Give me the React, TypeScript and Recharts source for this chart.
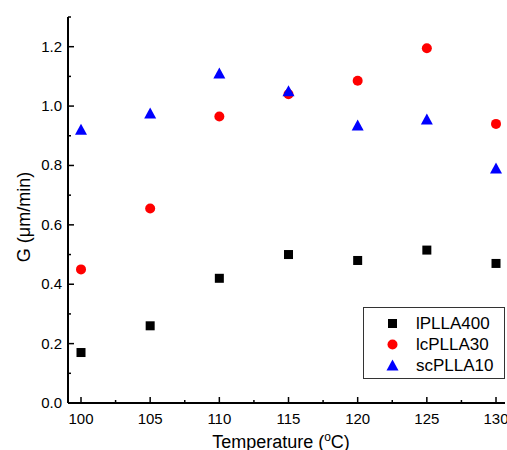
import { Label, Scatter, ScatterChart, XAxis, YAxis } from "recharts";

const temperatures = [100, 105, 110, 115, 120, 125, 130];
const lPLLA400 = [0.17, 0.26, 0.42, 0.5, 0.48, 0.515, 0.47];
const lcPLLA30 = [0.45, 0.655, 0.965, 1.04, 1.085, 1.195, 0.94];
const scPLLA10 = [0.92, 0.975, 1.11, 1.05, 0.935, 0.955, 0.79];

const xTicks = [100, 102.5, 105, 107.5, 110, 112.5, 115, 117.5, 120, 122.5, 125, 127.5, 130];
const yTicks = [0, 0.1, 0.2, 0.3, 0.4, 0.5, 0.6, 0.7, 0.8, 0.9, 1.0, 1.1, 1.2, 1.3];

const FONT = "'Liberation Sans', Arial, sans-serif";

const toPoints = (vals: number[]) => temperatures.map((t, i) => ({ x: t, y: vals[i] }));

const Square = ({ cx, cy }: any) => <rect x={cx - 4.5} y={cy - 4.5} width={9} height={9} fill="#000" />;
const Dot = ({ cx, cy }: any) => <circle cx={cx} cy={cy} r={5} fill="#ff0000" />;
const Tri = ({ cx, cy }: any) => (
  <polygon points={`${cx},${cy - 6} ${cx + 6},${cy + 5} ${cx - 6},${cy + 5}`} fill="#0000ff" />
);

function XTick({ x, y, payload }: any) {
  const major = payload.value % 5 === 0;
  return (
    <g>
      <line x1={x} x2={x} y1={y} y2={y - (major ? 6 : 3)} stroke="#000" strokeWidth={1.5} />
      {major && (
        <text x={x} y={y + 21} textAnchor="middle" fontSize={15} fontFamily={FONT} fill="#000">
          {payload.value}
        </text>
      )}
    </g>
  );
}

function YTick({ x, y, payload }: any) {
  const major = Math.round(payload.value * 10) % 2 === 0;
  return (
    <g>
      <line x1={x} x2={x + (major ? 6 : 3)} y1={y} y2={y} stroke="#000" strokeWidth={1.5} />
      {major && (
        <text x={x - 6} y={y + 5} textAnchor="end" fontSize={15} fontFamily={FONT} fill="#000">
          {payload.value.toFixed(1)}
        </text>
      )}
    </g>
  );
}

const legendItems = [
  { name: "lPLLA400", icon: <rect x={6} y={4} width={9} height={9} fill="#000" /> },
  { name: "lcPLLA30", icon: <circle cx={10.5} cy={8.5} r={5} fill="#ff0000" /> },
  { name: "scPLLA10", icon: <polygon points="10.5,2.5 16.5,13.5 4.5,13.5" fill="#0000ff" /> },
];

function LegendBox() {
  return (
    <div
      style={{
        position: "absolute",
        left: 363,
        top: 307,
        border: "1px solid #333",
        width: 142,
        height: 72,
        boxSizing: "border-box",
        paddingTop: 5,
        fontFamily: FONT,
        fontSize: 17,
        background: "#fff",
      }}
    >
      {legendItems.map((it) => (
        <div key={it.name} style={{ display: "flex", alignItems: "center", height: 21 }}>
          <svg width={21} height={17} style={{ marginLeft: 18 }}>
            {it.icon}
          </svg>
          <span style={{ marginLeft: 13, color: "#000" }}>{it.name}</span>
        </div>
      ))}
    </div>
  );
}

export default function App() {
  return (
    <div style={{ position: "fixed", left: 0, top: 0, width: 507, height: 450, background: "#fff" }}>
      <ScatterChart width={507} height={450} margin={{ top: 17, right: 2, bottom: 0, left: 0 }}>
        <XAxis
          type="number"
          dataKey="x"
          domain={[99.06, 130.65]}
          allowDataOverflow
          ticks={xTicks}
          interval={0}
          height={47}
          tickSize={0}
          tickMargin={0}
          tickLine={false}
          tick={<XTick />}
          axisLine={{ stroke: "#000", strokeWidth: 2 }}
        >
          <Label
            content={() => (
              <text x={281} y={448} textAnchor="middle" fontSize={18} fontFamily={FONT} fill="#000">
                Temperature (
                <tspan fontSize={12} dy={-7}>o</tspan>
                <tspan dy={7}>C)</tspan>
              </text>
            )}
          />
        </XAxis>
        <YAxis
          type="number"
          dataKey="y"
          domain={[0, 1.3]}
          ticks={yTicks}
          interval={0}
          width={68}
          tickSize={0}
          tickMargin={0}
          tickLine={false}
          tick={<YTick />}
          axisLine={{ stroke: "#000", strokeWidth: 2 }}
        >
          <Label
            content={() => (
              <text
                x={25}
                y={217}
                transform="rotate(-90 25 217)"
                textAnchor="middle"
                dominantBaseline="middle"
                fontSize={18}
                fontFamily={FONT}
                fill="#000"
              >
                G (μm/min)
              </text>
            )}
          />
        </YAxis>
        <Scatter name="lPLLA400" data={toPoints(lPLLA400)} shape={Square} isAnimationActive={false} />
        <Scatter name="lcPLLA30" data={toPoints(lcPLLA30)} shape={Dot} isAnimationActive={false} />
        <Scatter name="scPLLA10" data={toPoints(scPLLA10)} shape={Tri} isAnimationActive={false} />
      </ScatterChart>
      <LegendBox />
    </div>
  );
}
